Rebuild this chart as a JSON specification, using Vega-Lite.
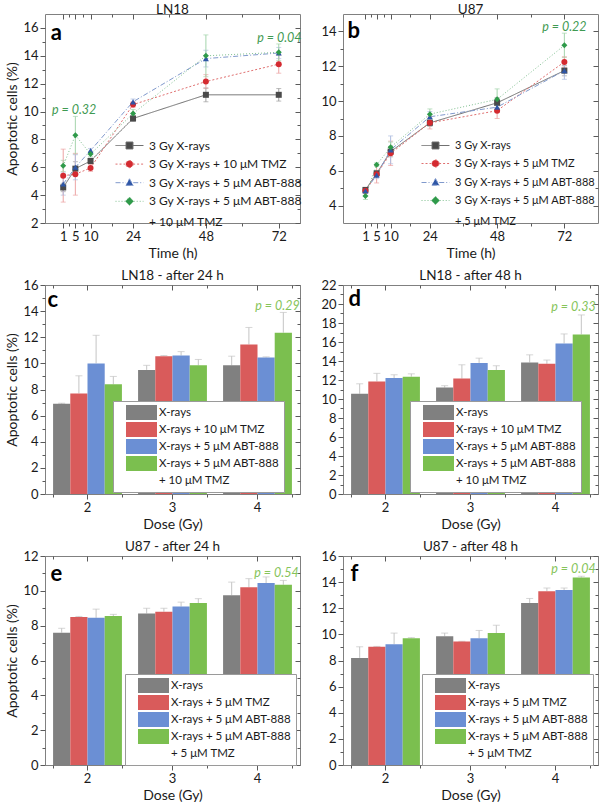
{
 "$schema": "https://vega.github.io/schema/vega-lite/v6.json",
 "padding": {"left": 5, "top": 2, "right": 0, "bottom": 0},
 "background": "white",
 "config": {
  "font": "Lato",
  "view": {"stroke": "#808080", "strokeWidth": 1},
  "axis": {"domain": false, "grid": false, "labelFontSize": 13, "labelColor": "#1a1a1a", "tickColor": "#5a5a5a", "tickSize": 5, "labelPadding": 2, "titleFontSize": 14, "titleFontWeight": "normal", "titleColor": "#1a1a1a", "titlePadding": 3},
  "title": {"fontSize": 13.5, "fontWeight": "normal", "color": "#1a1a1a", "offset": -3},
  "legend": {"labelFont": "Lato"},
  "text": {"font": "Lato"}
 },
 "datasets": {
  "a": [
   {"t":1,"s":"3 Gy X-rays","v":4.55,"e":0.3},
   {"t":5,"s":"3 Gy X-rays","v":5.9,"e":0.5},
   {"t":10,"s":"3 Gy X-rays","v":6.45,"e":0.2},
   {"t":24,"s":"3 Gy X-rays","v":9.5,"e":0.2},
   {"t":48,"s":"3 Gy X-rays","v":11.2,"e":0.5},
   {"t":72,"s":"3 Gy X-rays","v":11.2,"e":0.45},
   {"t":1,"s":"3 Gy X-rays + 10 μM TMZ","v":5.4,"e":1.9},
   {"t":5,"s":"3 Gy X-rays + 10 μM TMZ","v":5.5,"e":1.5},
   {"t":10,"s":"3 Gy X-rays + 10 μM TMZ","v":5.95,"e":0.25},
   {"t":24,"s":"3 Gy X-rays + 10 μM TMZ","v":10.5,"e":0.2},
   {"t":48,"s":"3 Gy X-rays + 10 μM TMZ","v":12.15,"e":0.5},
   {"t":72,"s":"3 Gy X-rays + 10 μM TMZ","v":13.4,"e":0.65},
   {"t":1,"s":"3 Gy X-rays + 5 μM ABT-888","v":4.8,"e":0.8},
   {"t":5,"s":"3 Gy X-rays + 5 μM ABT-888","v":6.0,"e":0.9},
   {"t":10,"s":"3 Gy X-rays + 5 μM ABT-888","v":7.2,"e":0.15},
   {"t":24,"s":"3 Gy X-rays + 5 μM ABT-888","v":10.7,"e":0.2},
   {"t":48,"s":"3 Gy X-rays + 5 μM ABT-888","v":13.8,"e":0.6},
   {"t":72,"s":"3 Gy X-rays + 5 μM ABT-888","v":14.2,"e":0.4},
   {"t":1,"s":"3 Gy X-rays + 5 μM ABT-888 + 10 μM TMZ","v":6.1,"e":0.4},
   {"t":5,"s":"3 Gy X-rays + 5 μM ABT-888 + 10 μM TMZ","v":8.3,"e":1.35},
   {"t":10,"s":"3 Gy X-rays + 5 μM ABT-888 + 10 μM TMZ","v":6.95,"e":0.2},
   {"t":24,"s":"3 Gy X-rays + 5 μM ABT-888 + 10 μM TMZ","v":9.85,"e":0.3},
   {"t":48,"s":"3 Gy X-rays + 5 μM ABT-888 + 10 μM TMZ","v":14.0,"e":1.5},
   {"t":72,"s":"3 Gy X-rays + 5 μM ABT-888 + 10 μM TMZ","v":14.25,"e":0.6}
  ],
  "b": [
   {"t":1,"s":"3 Gy X-rays","v":4.9,"e":0.1},
   {"t":5,"s":"3 Gy X-rays","v":5.85,"e":0.15},
   {"t":10,"s":"3 Gy X-rays","v":7.1,"e":0.3},
   {"t":24,"s":"3 Gy X-rays","v":8.75,"e":0.2},
   {"t":48,"s":"3 Gy X-rays","v":9.9,"e":0.3},
   {"t":72,"s":"3 Gy X-rays","v":11.75,"e":0.3},
   {"t":1,"s":"3 Gy X-rays + 5 μM TMZ","v":4.85,"e":0.15},
   {"t":5,"s":"3 Gy X-rays + 5 μM TMZ","v":5.8,"e":0.5},
   {"t":10,"s":"3 Gy X-rays + 5 μM TMZ","v":7.0,"e":0.7},
   {"t":24,"s":"3 Gy X-rays + 5 μM TMZ","v":8.75,"e":0.35},
   {"t":48,"s":"3 Gy X-rays + 5 μM TMZ","v":9.45,"e":0.45},
   {"t":72,"s":"3 Gy X-rays + 5 μM TMZ","v":12.25,"e":0.3},
   {"t":1,"s":"3 Gy X-rays + 5 μM ABT-888","v":4.85,"e":0.1},
   {"t":5,"s":"3 Gy X-rays + 5 μM ABT-888","v":5.75,"e":0.2},
   {"t":10,"s":"3 Gy X-rays + 5 μM ABT-888","v":7.2,"e":0.8},
   {"t":24,"s":"3 Gy X-rays + 5 μM ABT-888","v":9.1,"e":0.3},
   {"t":48,"s":"3 Gy X-rays + 5 μM ABT-888","v":9.65,"e":0.3},
   {"t":72,"s":"3 Gy X-rays + 5 μM ABT-888","v":11.75,"e":0.5},
   {"t":1,"s":"3 Gy X-rays + 5 μM ABT-888 + 5 μM TMZ","v":4.55,"e":0.2},
   {"t":5,"s":"3 Gy X-rays + 5 μM ABT-888 + 5 μM TMZ","v":6.35,"e":0.1},
   {"t":10,"s":"3 Gy X-rays + 5 μM ABT-888 + 5 μM TMZ","v":7.35,"e":0.3},
   {"t":24,"s":"3 Gy X-rays + 5 μM ABT-888 + 5 μM TMZ","v":9.25,"e":0.3},
   {"t":48,"s":"3 Gy X-rays + 5 μM ABT-888 + 5 μM TMZ","v":10.1,"e":0.6},
   {"t":72,"s":"3 Gy X-rays + 5 μM ABT-888 + 5 μM TMZ","v":13.2,"e":0.7}
  ],
  "c": [
   {"dose":2,"s":"X-rays","v":6.9,"hi":6.95},
   {"dose":2,"s":"X-rays + 10 μM TMZ","v":7.7,"hi":9.05},
   {"dose":2,"s":"X-rays + 5 μM ABT-888","v":10.0,"hi":12.15},
   {"dose":2,"s":"X-rays + 5 μM ABT-888 + 10 μM TMZ","v":8.4,"hi":9.0},
   {"dose":3,"s":"X-rays","v":9.5,"hi":9.85},
   {"dose":3,"s":"X-rays + 10 μM TMZ","v":10.55,"hi":10.6},
   {"dose":3,"s":"X-rays + 5 μM ABT-888","v":10.6,"hi":10.9},
   {"dose":3,"s":"X-rays + 5 μM ABT-888 + 10 μM TMZ","v":9.85,"hi":10.3},
   {"dose":4,"s":"X-rays","v":9.85,"hi":10.55},
   {"dose":4,"s":"X-rays + 10 μM TMZ","v":11.45,"hi":12.75},
   {"dose":4,"s":"X-rays + 5 μM ABT-888","v":10.45,"hi":10.5},
   {"dose":4,"s":"X-rays + 5 μM ABT-888 + 10 μM TMZ","v":12.35,"hi":13.9}
  ],
  "d": [
   {"dose":2,"s":"X-rays","v":10.55,"hi":11.6},
   {"dose":2,"s":"X-rays + 10 μM TMZ","v":11.85,"hi":12.7},
   {"dose":2,"s":"X-rays + 5 μM ABT-888","v":12.2,"hi":12.55},
   {"dose":2,"s":"X-rays + 5 μM ABT-888 + 10 μM TMZ","v":12.35,"hi":12.65},
   {"dose":3,"s":"X-rays","v":11.2,"hi":11.4},
   {"dose":3,"s":"X-rays + 10 μM TMZ","v":12.15,"hi":13.6},
   {"dose":3,"s":"X-rays + 5 μM ABT-888","v":13.8,"hi":14.3},
   {"dose":3,"s":"X-rays + 5 μM ABT-888 + 10 μM TMZ","v":13.05,"hi":13.5},
   {"dose":4,"s":"X-rays","v":13.85,"hi":14.65},
   {"dose":4,"s":"X-rays + 10 μM TMZ","v":13.7,"hi":14.1},
   {"dose":4,"s":"X-rays + 5 μM ABT-888","v":15.85,"hi":16.85},
   {"dose":4,"s":"X-rays + 5 μM ABT-888 + 10 μM TMZ","v":16.8,"hi":18.85}
  ],
  "e": [
   {"dose":2,"s":"X-rays","v":7.6,"hi":7.85},
   {"dose":2,"s":"X-rays + 5 μM TMZ","v":8.5,"hi":8.53},
   {"dose":2,"s":"X-rays + 5 μM ABT-888","v":8.45,"hi":8.95},
   {"dose":2,"s":"X-rays + 5 μM ABT-888 + 5 μM TMZ","v":8.55,"hi":8.65},
   {"dose":3,"s":"X-rays","v":8.7,"hi":9.0},
   {"dose":3,"s":"X-rays + 5 μM TMZ","v":8.8,"hi":9.0},
   {"dose":3,"s":"X-rays + 5 μM ABT-888","v":9.1,"hi":9.35},
   {"dose":3,"s":"X-rays + 5 μM ABT-888 + 5 μM TMZ","v":9.3,"hi":9.55},
   {"dose":4,"s":"X-rays","v":9.75,"hi":10.5},
   {"dose":4,"s":"X-rays + 5 μM TMZ","v":10.2,"hi":10.7},
   {"dose":4,"s":"X-rays + 5 μM ABT-888","v":10.45,"hi":10.8},
   {"dose":4,"s":"X-rays + 5 μM ABT-888 + 5 μM TMZ","v":10.35,"hi":10.6}
  ],
  "f": [
   {"dose":2,"s":"X-rays","v":8.2,"hi":9.05},
   {"dose":2,"s":"X-rays + 5 μM TMZ","v":9.05,"hi":9.08},
   {"dose":2,"s":"X-rays + 5 μM ABT-888","v":9.25,"hi":10.1},
   {"dose":2,"s":"X-rays + 5 μM ABT-888 + 5 μM TMZ","v":9.7,"hi":9.75},
   {"dose":3,"s":"X-rays","v":9.85,"hi":10.1},
   {"dose":3,"s":"X-rays + 5 μM TMZ","v":9.45,"hi":9.47},
   {"dose":3,"s":"X-rays + 5 μM ABT-888","v":9.7,"hi":10.3},
   {"dose":3,"s":"X-rays + 5 μM ABT-888 + 5 μM TMZ","v":10.1,"hi":10.7},
   {"dose":4,"s":"X-rays","v":12.4,"hi":12.75},
   {"dose":4,"s":"X-rays + 5 μM TMZ","v":13.3,"hi":13.55},
   {"dose":4,"s":"X-rays + 5 μM ABT-888","v":13.4,"hi":13.55},
   {"dose":4,"s":"X-rays + 5 μM ABT-888 + 5 μM TMZ","v":14.35,"hi":14.45}
  ]
 },
 "columns": 2,
 "bounds": "flush",
 "spacing": {"row": 62, "column": 43},
 "resolve": {"scale": {"color": "independent", "fill": "independent", "stroke": "independent", "shape": "independent", "strokeDash": "independent", "xOffset": "independent"}, "legend": {"color": "independent", "fill": "independent", "stroke": "independent", "shape": "independent", "strokeDash": "independent"}},
 "concat": [
  {
   "title": "LN18",
   "width": 255, "height": 209,
   "layer": [
    {"data": {"name": "a"}, "mark": {"type": "line", "strokeWidth": 1},
     "encoding": {
      "x": {"field": "t", "type": "quantitative", "scale": {"domain": [-5, 79], "nice": false, "zero": false}, "axis": {"orient": "bottom", "values": [1,5,10,24,48,72], "title": "Time (h)", "labelOverlap": false, "labelFlush": false}},
      "y": {"field": "v", "type": "quantitative", "scale": {"domain": [2, 17], "nice": false, "zero": false}, "axis": {"orient": "left", "values": [2,4,6,8,10,12,14,16], "title": "Apoptotic cells (%)"}},
      "color": {"field": "s", "type": "nominal", "scale": {"domain": ["3 Gy X-rays","3 Gy X-rays + 10 μM TMZ","3 Gy X-rays + 5 μM ABT-888","3 Gy X-rays + 5 μM ABT-888 + 10 μM TMZ"], "range": ["#6e6e6e","#e07070","#8099cc","#80c090"]}, "legend": null},
      "strokeDash": {"field": "s", "type": "nominal", "scale": {"domain": ["3 Gy X-rays","3 Gy X-rays + 10 μM TMZ","3 Gy X-rays + 5 μM ABT-888","3 Gy X-rays + 5 μM ABT-888 + 10 μM TMZ"], "range": [[1,0],[2,2],[5,2,1,2],[1,2]]}, "legend": null}
     }},
    {"data": {"name": "a"}, "mark": {"type": "errorbar", "ticks": true, "size": 5, "thickness": 1},
     "encoding": {
      "x": {"field": "t", "type": "quantitative", "axis": null},
      "y": {"field": "v", "type": "quantitative", "axis": null},
      "yError": {"field": "e"},
      "color": {"field": "s", "type": "nominal", "scale": {"domain": ["3 Gy X-rays","3 Gy X-rays + 10 μM TMZ","3 Gy X-rays + 5 μM ABT-888","3 Gy X-rays + 5 μM ABT-888 + 10 μM TMZ"], "range": ["#a0a0a0","#eca4a4","#aebde0","#a4d4ac"]}, "legend": null}
     }},
    {"data": {"name": "a"}, "mark": {"type": "point", "filled": true, "opacity": 1, "size": 36},
     "encoding": {
      "x": {"field": "t", "type": "quantitative", "axis": {"orient": "bottom", "values": [3,7.5,17,36,60], "labels": false, "title": null, "tickSize": 3}},
      "y": {"field": "v", "type": "quantitative", "axis": {"orient": "left", "values": [3,5,7,9,11,13,15], "labels": false, "title": null, "tickSize": 3}},
      "color": {"field": "s", "type": "nominal", "scale": {"domain": ["3 Gy X-rays","3 Gy X-rays + 10 μM TMZ","3 Gy X-rays + 5 μM ABT-888","3 Gy X-rays + 5 μM ABT-888 + 10 μM TMZ"], "range": ["#4a4a4a","#d42a30","#2e56a6","#2f9a4a"]}, "legend": null},
      "shape": {"field": "s", "type": "nominal", "scale": {"domain": ["3 Gy X-rays","3 Gy X-rays + 10 μM TMZ","3 Gy X-rays + 5 μM ABT-888","3 Gy X-rays + 5 μM ABT-888 + 10 μM TMZ"], "range": ["square","circle","triangle-up","diamond"]}, "legend": null}
     }},
    {"data": {"values": [{"x": 4.6, "y": 10.1, "label": "p = 0.32"}, {"x": 72.2, "y": 15.3, "label": "p = 0.04"}]},
     "mark": {"type": "text", "fontStyle": "italic", "fontSize": 12.5, "color": "#3f9a52"},
     "encoding": {
      "x": {"field": "x", "type": "quantitative", "axis": {"orient": "top", "offset": -5, "tickSize": 5, "values": [1,5,10,24,48,72], "labels": false, "title": null}},
      "y": {"field": "y", "type": "quantitative", "axis": {"orient": "right", "offset": -5, "tickSize": 5, "values": [2,4,6,8,10,12,14,16], "labels": false, "title": null}},
      "text": {"field": "label"}
     }},
    {"data": {"values": [{"x": -3.1, "y": 15.1, "label": "a"}]},
     "mark": {"type": "text", "fontWeight": "bold", "fontSize": 22, "align": "left", "baseline": "alphabetic", "color": "#000"},
     "encoding": {
      "x": {"field": "x", "type": "quantitative", "axis": {"orient": "top", "offset": -3, "tickSize": 3, "values": [3,7.5,17,36,60], "labels": false, "title": null}},
      "y": {"field": "y", "type": "quantitative", "axis": {"orient": "right", "offset": -3, "tickSize": 3, "values": [3,5,7,9,11,13,15], "labels": false, "title": null}},
      "text": {"field": "label"}
     }},
    {"data": {"name": "a"}, "transform": [{"filter": "false"}],
     "mark": {"type": "point", "filled": true, "opacity": 1},
     "encoding": {
      "fill": {"field": "s", "type": "nominal", "scale": {"domain": ["3 Gy X-rays","3 Gy X-rays + 10 μM TMZ","3 Gy X-rays + 5 μM ABT-888","3 Gy X-rays + 5 μM ABT-888 + 10 μM TMZ","+ 10 μM TMZ"], "range": ["#4a4a4a","#d42a30","#2e56a6","#2f9a4a","transparent"]},
       "legend": {"orient": "none", "legendX": 70, "legendY": 125, "title": null, "padding": 0, "symbolSize": 144, "symbolOffset": 8, "symbolStrokeWidth": 1, "labelFontSize": 12, "labelColor": "#1a1a1a", "labelOffset": 13, "rowPadding": 5.6, "labelLimit": 400, "labelExpr": "indexof(datum.label,'ABT-888 +')>=0 ? slice(datum.label,0,indexof(datum.label,'ABT-888')+7) : datum.label"}},
      "stroke": {"field": "s", "type": "nominal", "scale": {"domain": ["3 Gy X-rays","3 Gy X-rays + 10 μM TMZ","3 Gy X-rays + 5 μM ABT-888","3 Gy X-rays + 5 μM ABT-888 + 10 μM TMZ","+ 10 μM TMZ"], "range": ["#6e6e6e","#e07070","#8099cc","#80c090","transparent"]},
       "legend": {"orient": "none", "legendX": 70, "legendY": 125, "title": null, "padding": 0, "symbolSize": 144, "symbolOffset": 8, "symbolStrokeWidth": 1, "labelFontSize": 12, "labelColor": "#1a1a1a", "labelOffset": 13, "rowPadding": 5.6, "labelLimit": 400, "labelExpr": "indexof(datum.label,'ABT-888 +')>=0 ? slice(datum.label,0,indexof(datum.label,'ABT-888')+7) : datum.label"}},
      "shape": {"field": "s", "type": "nominal", "scale": {"domain": ["3 Gy X-rays","3 Gy X-rays + 10 μM TMZ","3 Gy X-rays + 5 μM ABT-888","3 Gy X-rays + 5 μM ABT-888 + 10 μM TMZ","+ 10 μM TMZ"], "range": ["M-2.33,0H-0.58M0.58,0H2.33M-0.58,-0.58H0.58V0.58H-0.58Z","M-2.33,0H-0.6M0.6,0H2.33M0.6,0A0.6,0.6,0,1,1,-0.6,0A0.6,0.6,0,1,1,0.6,0Z","M-2.33,0H-0.62M0.62,0H2.33M0,-0.65L0.62,0.45H-0.62Z","M-2.33,0H-0.7M0.7,0H2.33M0,-0.7L0.7,0L0,0.7L-0.7,0Z","circle"]},
       "legend": {"orient": "none", "legendX": 70, "legendY": 125, "title": null, "padding": 0, "symbolSize": 144, "symbolOffset": 8, "symbolStrokeWidth": 1, "labelFontSize": 12, "labelColor": "#1a1a1a", "labelOffset": 13, "rowPadding": 5.6, "labelLimit": 400, "labelExpr": "indexof(datum.label,'ABT-888 +')>=0 ? slice(datum.label,0,indexof(datum.label,'ABT-888')+7) : datum.label"}},
      "strokeDash": {"field": "s", "type": "nominal", "scale": {"domain": ["3 Gy X-rays","3 Gy X-rays + 10 μM TMZ","3 Gy X-rays + 5 μM ABT-888","3 Gy X-rays + 5 μM ABT-888 + 10 μM TMZ","+ 10 μM TMZ"], "range": [[1,0],[2,2],[5,2,1,2],[1,2],[1,0]]},
       "legend": {"orient": "none", "legendX": 70, "legendY": 125, "title": null, "padding": 0, "symbolSize": 144, "symbolOffset": 8, "symbolStrokeWidth": 1, "labelFontSize": 12, "labelColor": "#1a1a1a", "labelOffset": 13, "rowPadding": 5.6, "labelLimit": 400, "labelExpr": "indexof(datum.label,'ABT-888 +')>=0 ? slice(datum.label,0,indexof(datum.label,'ABT-888')+7) : datum.label"}}
     }}
   ],
   "resolve": {"scale": {"color": "independent", "shape": "independent", "strokeDash": "independent", "fill": "independent", "stroke": "independent"}, "axis": {"x": "independent", "y": "independent"}}
  },
  {
   "title": "U87",
   "width": 255, "height": 209,
   "layer": [
    {"data": {"name": "b"}, "mark": {"type": "line", "strokeWidth": 1},
     "encoding": {
      "x": {"field": "t", "type": "quantitative", "scale": {"domain": [-7, 84], "nice": false, "zero": false}, "axis": {"orient": "bottom", "values": [1,5,10,24,48,72], "title": "Time (h)", "labelOverlap": false, "labelFlush": false}},
      "y": {"field": "v", "type": "quantitative", "scale": {"domain": [3, 15], "nice": false, "zero": false}, "axis": {"orient": "left", "values": [4,6,8,10,12,14], "title": null}},
      "color": {"field": "s", "type": "nominal", "scale": {"domain": ["3 Gy X-rays","3 Gy X-rays + 5 μM TMZ","3 Gy X-rays + 5 μM ABT-888","3 Gy X-rays + 5 μM ABT-888 + 5 μM TMZ"], "range": ["#6e6e6e","#e07070","#8099cc","#80c090"]}, "legend": null},
      "strokeDash": {"field": "s", "type": "nominal", "scale": {"domain": ["3 Gy X-rays","3 Gy X-rays + 5 μM TMZ","3 Gy X-rays + 5 μM ABT-888","3 Gy X-rays + 5 μM ABT-888 + 5 μM TMZ"], "range": [[1,0],[2,2],[5,2,1,2],[1,2]]}, "legend": null}
     }},
    {"data": {"name": "b"}, "mark": {"type": "errorbar", "ticks": true, "size": 5, "thickness": 1},
     "encoding": {
      "x": {"field": "t", "type": "quantitative", "axis": null},
      "y": {"field": "v", "type": "quantitative", "axis": null},
      "yError": {"field": "e"},
      "color": {"field": "s", "type": "nominal", "scale": {"domain": ["3 Gy X-rays","3 Gy X-rays + 5 μM TMZ","3 Gy X-rays + 5 μM ABT-888","3 Gy X-rays + 5 μM ABT-888 + 5 μM TMZ"], "range": ["#a0a0a0","#eca4a4","#aebde0","#a4d4ac"]}, "legend": null}
     }},
    {"data": {"name": "b"}, "mark": {"type": "point", "filled": true, "opacity": 1, "size": 36},
     "encoding": {
      "x": {"field": "t", "type": "quantitative", "axis": {"orient": "bottom", "values": [3,7.5,17,36,60], "labels": false, "title": null, "tickSize": 3}},
      "y": {"field": "v", "type": "quantitative", "axis": {"orient": "left", "values": [5,7,9,11,13], "labels": false, "title": null, "tickSize": 3}},
      "color": {"field": "s", "type": "nominal", "scale": {"domain": ["3 Gy X-rays","3 Gy X-rays + 5 μM TMZ","3 Gy X-rays + 5 μM ABT-888","3 Gy X-rays + 5 μM ABT-888 + 5 μM TMZ"], "range": ["#4a4a4a","#d42a30","#2e56a6","#2f9a4a"]}, "legend": null},
      "shape": {"field": "s", "type": "nominal", "scale": {"domain": ["3 Gy X-rays","3 Gy X-rays + 5 μM TMZ","3 Gy X-rays + 5 μM ABT-888","3 Gy X-rays + 5 μM ABT-888 + 5 μM TMZ"], "range": ["square","circle","triangle-up","diamond"]}, "legend": null}
     }},
    {"data": {"values": [{"x": 72, "y": 14.25, "label": "p = 0.22"}]},
     "mark": {"type": "text", "fontStyle": "italic", "fontSize": 12.5, "color": "#3f9a52"},
     "encoding": {
      "x": {"field": "x", "type": "quantitative", "axis": {"orient": "top", "offset": -5, "tickSize": 5, "values": [1,5,10,24,48,72], "labels": false, "title": null}},
      "y": {"field": "y", "type": "quantitative", "axis": {"orient": "right", "offset": -5, "tickSize": 5, "values": [4,6,8,10,12,14], "labels": false, "title": null}},
      "text": {"field": "label"}
     }},
    {"data": {"values": [{"x": -5.4, "y": 13.6, "label": "b"}]},
     "mark": {"type": "text", "fontWeight": "bold", "fontSize": 22, "align": "left", "baseline": "alphabetic", "color": "#000"},
     "encoding": {
      "x": {"field": "x", "type": "quantitative", "axis": {"orient": "top", "offset": -3, "tickSize": 3, "values": [3,7.5,17,36,60], "labels": false, "title": null}},
      "y": {"field": "y", "type": "quantitative", "axis": {"orient": "right", "offset": -3, "tickSize": 3, "values": [5,7,9,11,13], "labels": false, "title": null}},
      "text": {"field": "label"}
     }},
    {"data": {"name": "b"}, "transform": [{"filter": "false"}],
     "mark": {"type": "point", "filled": true, "opacity": 1},
     "encoding": {
      "fill": {"field": "s", "type": "nominal", "scale": {"domain": ["3 Gy X-rays","3 Gy X-rays + 5 μM TMZ","3 Gy X-rays + 5 μM ABT-888","3 Gy X-rays + 5 μM ABT-888 + 5 μM TMZ","+ 5 μM TMZ"], "range": ["#4a4a4a","#d42a30","#2e56a6","#2f9a4a","transparent"]},
       "legend": {"orient": "none", "legendX": 78, "legendY": 125, "title": null, "padding": 0, "symbolSize": 144, "symbolOffset": 8, "symbolStrokeWidth": 1, "labelFontSize": 11, "labelColor": "#1a1a1a", "labelOffset": 13, "rowPadding": 6, "labelLimit": 400, "labelExpr": "indexof(datum.label,'ABT-888 +')>=0 ? slice(datum.label,0,indexof(datum.label,'ABT-888')+7) : datum.label"}},
      "stroke": {"field": "s", "type": "nominal", "scale": {"domain": ["3 Gy X-rays","3 Gy X-rays + 5 μM TMZ","3 Gy X-rays + 5 μM ABT-888","3 Gy X-rays + 5 μM ABT-888 + 5 μM TMZ","+ 5 μM TMZ"], "range": ["#6e6e6e","#e07070","#8099cc","#80c090","transparent"]},
       "legend": {"orient": "none", "legendX": 78, "legendY": 125, "title": null, "padding": 0, "symbolSize": 144, "symbolOffset": 8, "symbolStrokeWidth": 1, "labelFontSize": 11, "labelColor": "#1a1a1a", "labelOffset": 13, "rowPadding": 6, "labelLimit": 400, "labelExpr": "indexof(datum.label,'ABT-888 +')>=0 ? slice(datum.label,0,indexof(datum.label,'ABT-888')+7) : datum.label"}},
      "shape": {"field": "s", "type": "nominal", "scale": {"domain": ["3 Gy X-rays","3 Gy X-rays + 5 μM TMZ","3 Gy X-rays + 5 μM ABT-888","3 Gy X-rays + 5 μM ABT-888 + 5 μM TMZ","+ 5 μM TMZ"], "range": ["M-2.33,0H-0.58M0.58,0H2.33M-0.58,-0.58H0.58V0.58H-0.58Z","M-2.33,0H-0.6M0.6,0H2.33M0.6,0A0.6,0.6,0,1,1,-0.6,0A0.6,0.6,0,1,1,0.6,0Z","M-2.33,0H-0.62M0.62,0H2.33M0,-0.65L0.62,0.45H-0.62Z","M-2.33,0H-0.7M0.7,0H2.33M0,-0.7L0.7,0L0,0.7L-0.7,0Z","circle"]},
       "legend": {"orient": "none", "legendX": 78, "legendY": 125, "title": null, "padding": 0, "symbolSize": 144, "symbolOffset": 8, "symbolStrokeWidth": 1, "labelFontSize": 11, "labelColor": "#1a1a1a", "labelOffset": 13, "rowPadding": 6, "labelLimit": 400, "labelExpr": "indexof(datum.label,'ABT-888 +')>=0 ? slice(datum.label,0,indexof(datum.label,'ABT-888')+7) : datum.label"}},
      "strokeDash": {"field": "s", "type": "nominal", "scale": {"domain": ["3 Gy X-rays","3 Gy X-rays + 5 μM TMZ","3 Gy X-rays + 5 μM ABT-888","3 Gy X-rays + 5 μM ABT-888 + 5 μM TMZ","+ 5 μM TMZ"], "range": [[1,0],[2,2],[5,2,1,2],[1,2],[1,0]]},
       "legend": {"orient": "none", "legendX": 78, "legendY": 125, "title": null, "padding": 0, "symbolSize": 144, "symbolOffset": 8, "symbolStrokeWidth": 1, "labelFontSize": 11, "labelColor": "#1a1a1a", "labelOffset": 13, "rowPadding": 6, "labelLimit": 400, "labelExpr": "indexof(datum.label,'ABT-888 +')>=0 ? slice(datum.label,0,indexof(datum.label,'ABT-888')+7) : datum.label"}}
     }}
   ],
   "resolve": {"scale": {"color": "independent", "shape": "independent", "strokeDash": "independent", "fill": "independent", "stroke": "independent"}, "axis": {"x": "independent", "y": "independent"}}
  },
  {
   "title": "LN18 - after 24 h",
   "width": 255, "height": 209,
   "data": {"name": "c"},
   "layer": [
    {"mark": {"type": "rule", "color": "#c4c4c4", "strokeWidth": 1},
     "encoding": {
      "x": {"field": "dose", "type": "ordinal", "axis": null},
      "xOffset": {"field": "s", "type": "nominal"},
      "y": {"field": "v", "type": "quantitative", "axis": null},
      "y2": {"field": "hi"}
     }},
    {"mark": {"type": "tick", "color": "#c4c4c4", "thickness": 1, "size": 7},
     "encoding": {
      "x": {"field": "dose", "type": "ordinal", "axis": {"orient": "bottom", "tickBand": "extent", "labels": false, "title": null, "tickSize": 3}},
      "xOffset": {"field": "s", "type": "nominal"},
      "y": {"field": "hi", "type": "quantitative", "axis": {"orient": "left", "values": [1,3,5,7,9,11,13,15], "labels": false, "title": null, "tickSize": 3}}
     }},
    {"mark": {"type": "bar"},
     "encoding": {
      "x": {"field": "dose", "type": "ordinal", "scale": {"paddingInner": 0.19, "paddingOuter": 0.095}, "axis": {"orient": "bottom", "title": "Dose (Gy)", "labelAngle": 0}},
      "xOffset": {"field": "s", "type": "nominal", "scale": {"domain": ["X-rays","X-rays + 10 μM TMZ","X-rays + 5 μM ABT-888","X-rays + 5 μM ABT-888 + 10 μM TMZ"], "paddingInner": 0, "paddingOuter": 0}},
      "y": {"field": "v", "type": "quantitative", "scale": {"domain": [0, 16], "nice": false}, "axis": {"orient": "left", "values": [0,2,4,6,8,10,12,14,16], "title": "Apoptotic cells (%)"}},
      "color": {"field": "s", "type": "nominal", "scale": {"domain": ["X-rays","X-rays + 10 μM TMZ","X-rays + 5 μM ABT-888","X-rays + 5 μM ABT-888 + 10 μM TMZ","+ 10 μM TMZ"], "range": ["#808080","#d95b5b","#6b8fd4","#7bbf4f","transparent"]},
       "legend": {"orient": "none", "legendX": 68, "legendY": 116, "title": null, "padding": 4, "fillColor": "white", "strokeColor": "#9a9a9a", "symbolType": "M-2.067,-1H2.067V1H-2.067Z", "symbolSize": 225, "symbolStrokeWidth": 0, "symbolOffset": 17, "labelOffset": 10, "labelFontSize": 11.5, "labelColor": "#1a1a1a", "rowPadding": 2, "labelLimit": 400, "labelExpr": "(indexof(datum.label,'ABT-888 +')>=0 ? slice(datum.label,0,indexof(datum.label,'ABT-888')+7) : datum.label) + '              '"}}
     }},
    {"data": {"values": [{"dose": 4, "v": 14.4, "label": "p = 0.29"}]},
     "mark": {"type": "text", "fontStyle": "italic", "fontSize": 12.5, "color": "#86c45a", "dx": 20},
     "encoding": {
      "x": {"field": "dose", "type": "ordinal", "axis": {"orient": "top", "offset": -5, "tickSize": 5, "labels": false, "title": null}},
      "y": {"field": "v", "type": "quantitative", "axis": {"orient": "right", "offset": -5, "tickSize": 5, "values": [0,2,4,6,8,10,12,14,16], "labels": false, "title": null}},
      "text": {"field": "label"}
     }},
    {"data": {"values": [{"dose": 2, "v": 14.3, "label": "c"}]},
     "mark": {"type": "text", "fontWeight": "bold", "fontSize": 22, "align": "left", "baseline": "alphabetic", "color": "#000", "dx": -40},
     "encoding": {
      "x": {"field": "dose", "type": "ordinal", "axis": {"orient": "top", "offset": -3, "tickSize": 3, "tickBand": "extent", "labels": false, "title": null}},
      "y": {"field": "v", "type": "quantitative", "axis": {"orient": "right", "offset": -3, "tickSize": 3, "values": [1,3,5,7,9,11,13,15], "labels": false, "title": null}},
      "text": {"field": "label"}
     }}
   ],
   "resolve": {"axis": {"x": "independent", "y": "independent"}}
  },
  {
   "title": "LN18 - after 48 h",
   "width": 255, "height": 209,
   "data": {"name": "d"},
   "layer": [
    {"mark": {"type": "rule", "color": "#c4c4c4", "strokeWidth": 1},
     "encoding": {
      "x": {"field": "dose", "type": "ordinal", "axis": null},
      "xOffset": {"field": "s", "type": "nominal"},
      "y": {"field": "v", "type": "quantitative", "axis": null},
      "y2": {"field": "hi"}
     }},
    {"mark": {"type": "tick", "color": "#c4c4c4", "thickness": 1, "size": 7},
     "encoding": {
      "x": {"field": "dose", "type": "ordinal", "axis": {"orient": "bottom", "tickBand": "extent", "labels": false, "title": null, "tickSize": 3}},
      "xOffset": {"field": "s", "type": "nominal"},
      "y": {"field": "hi", "type": "quantitative", "axis": {"orient": "left", "values": [1,3,5,7,9,11,13,15,17,19,21], "labels": false, "title": null, "tickSize": 3}}
     }},
    {"mark": {"type": "bar"},
     "encoding": {
      "x": {"field": "dose", "type": "ordinal", "scale": {"paddingInner": 0.19, "paddingOuter": 0.095}, "axis": {"orient": "bottom", "title": "Dose (Gy)", "labelAngle": 0}},
      "xOffset": {"field": "s", "type": "nominal", "scale": {"domain": ["X-rays","X-rays + 10 μM TMZ","X-rays + 5 μM ABT-888","X-rays + 5 μM ABT-888 + 10 μM TMZ"], "paddingInner": 0, "paddingOuter": 0}},
      "y": {"field": "v", "type": "quantitative", "scale": {"domain": [0, 22], "nice": false}, "axis": {"orient": "left", "values": [0,2,4,6,8,10,12,14,16,18,20,22], "title": null}},
      "color": {"field": "s", "type": "nominal", "scale": {"domain": ["X-rays","X-rays + 10 μM TMZ","X-rays + 5 μM ABT-888","X-rays + 5 μM ABT-888 + 10 μM TMZ","+ 10 μM TMZ"], "range": ["#808080","#d95b5b","#6b8fd4","#7bbf4f","transparent"]},
       "legend": {"orient": "none", "legendX": 67, "legendY": 116, "title": null, "padding": 4, "fillColor": "white", "strokeColor": "#9a9a9a", "symbolType": "M-2.067,-1H2.067V1H-2.067Z", "symbolSize": 225, "symbolStrokeWidth": 0, "symbolOffset": 17, "labelOffset": 10, "labelFontSize": 11.5, "labelColor": "#1a1a1a", "rowPadding": 2, "labelLimit": 400, "labelExpr": "(indexof(datum.label,'ABT-888 +')>=0 ? slice(datum.label,0,indexof(datum.label,'ABT-888')+7) : datum.label) + '              '"}}
     }},
    {"data": {"values": [{"dose": 4, "v": 19.7, "label": "p = 0.33"}]},
     "mark": {"type": "text", "fontStyle": "italic", "fontSize": 12.5, "color": "#86c45a", "dx": 18},
     "encoding": {
      "x": {"field": "dose", "type": "ordinal", "axis": {"orient": "top", "offset": -5, "tickSize": 5, "labels": false, "title": null}},
      "y": {"field": "v", "type": "quantitative", "axis": {"orient": "right", "offset": -5, "tickSize": 5, "values": [0,2,4,6,8,10,12,14,16,18,20,22], "labels": false, "title": null}},
      "text": {"field": "label"}
     }},
    {"data": {"values": [{"dose": 2, "v": 19.8, "label": "d"}]},
     "mark": {"type": "text", "fontWeight": "bold", "fontSize": 22, "align": "left", "baseline": "alphabetic", "color": "#000", "dx": -37},
     "encoding": {
      "x": {"field": "dose", "type": "ordinal", "axis": {"orient": "top", "offset": -3, "tickSize": 3, "tickBand": "extent", "labels": false, "title": null}},
      "y": {"field": "v", "type": "quantitative", "axis": {"orient": "right", "offset": -3, "tickSize": 3, "values": [1,3,5,7,9,11,13,15,17,19,21], "labels": false, "title": null}},
      "text": {"field": "label"}
     }}
   ],
   "resolve": {"axis": {"x": "independent", "y": "independent"}}
  },
  {
   "title": "U87 - after 24 h",
   "width": 255, "height": 209,
   "data": {"name": "e"},
   "layer": [
    {"mark": {"type": "rule", "color": "#c4c4c4", "strokeWidth": 1},
     "encoding": {
      "x": {"field": "dose", "type": "ordinal", "axis": null},
      "xOffset": {"field": "s", "type": "nominal"},
      "y": {"field": "v", "type": "quantitative", "axis": null},
      "y2": {"field": "hi"}
     }},
    {"mark": {"type": "tick", "color": "#c4c4c4", "thickness": 1, "size": 7},
     "encoding": {
      "x": {"field": "dose", "type": "ordinal", "axis": {"orient": "bottom", "tickBand": "extent", "labels": false, "title": null, "tickSize": 3}},
      "xOffset": {"field": "s", "type": "nominal"},
      "y": {"field": "hi", "type": "quantitative", "axis": {"orient": "left", "values": [1,3,5,7,9,11], "labels": false, "title": null, "tickSize": 3}}
     }},
    {"mark": {"type": "bar"},
     "encoding": {
      "x": {"field": "dose", "type": "ordinal", "scale": {"paddingInner": 0.19, "paddingOuter": 0.095}, "axis": {"orient": "bottom", "title": "Dose (Gy)", "labelAngle": 0}},
      "xOffset": {"field": "s", "type": "nominal", "scale": {"domain": ["X-rays","X-rays + 5 μM TMZ","X-rays + 5 μM ABT-888","X-rays + 5 μM ABT-888 + 5 μM TMZ"], "paddingInner": 0, "paddingOuter": 0}},
      "y": {"field": "v", "type": "quantitative", "scale": {"domain": [0, 12], "nice": false}, "axis": {"orient": "left", "values": [0,2,4,6,8,10,12], "title": "Apoptotic cells (%)"}},
      "color": {"field": "s", "type": "nominal", "scale": {"domain": ["X-rays","X-rays + 5 μM TMZ","X-rays + 5 μM ABT-888","X-rays + 5 μM ABT-888 + 5 μM TMZ","+ 5 μM TMZ"], "range": ["#808080","#d95b5b","#6b8fd4","#7bbf4f","transparent"]},
       "legend": {"orient": "none", "legendX": 80, "legendY": 118, "title": null, "padding": 4, "fillColor": "white", "strokeColor": "#9a9a9a", "symbolType": "M-2.067,-1H2.067V1H-2.067Z", "symbolSize": 225, "symbolStrokeWidth": 0, "symbolOffset": 17, "labelOffset": 10, "labelFontSize": 11.5, "labelColor": "#1a1a1a", "rowPadding": 2, "labelLimit": 400, "labelExpr": "(indexof(datum.label,'ABT-888 +')>=0 ? slice(datum.label,0,indexof(datum.label,'ABT-888')+7) : datum.label) + '              '"}}
     }},
    {"data": {"values": [{"dose": 4, "v": 11.0, "label": "p = 0.54"}]},
     "mark": {"type": "text", "fontStyle": "italic", "fontSize": 12.5, "color": "#86c45a", "dx": 19},
     "encoding": {
      "x": {"field": "dose", "type": "ordinal", "axis": {"orient": "top", "offset": -5, "tickSize": 5, "labels": false, "title": null}},
      "y": {"field": "v", "type": "quantitative", "axis": {"orient": "right", "offset": -5, "tickSize": 5, "values": [0,2,4,6,8,10,12], "labels": false, "title": null}},
      "text": {"field": "label"}
     }},
    {"data": {"values": [{"dose": 2, "v": 10.55, "label": "e"}]},
     "mark": {"type": "text", "fontWeight": "bold", "fontSize": 22, "align": "left", "baseline": "alphabetic", "color": "#000", "dx": -37},
     "encoding": {
      "x": {"field": "dose", "type": "ordinal", "axis": {"orient": "top", "offset": -3, "tickSize": 3, "tickBand": "extent", "labels": false, "title": null}},
      "y": {"field": "v", "type": "quantitative", "axis": {"orient": "right", "offset": -3, "tickSize": 3, "values": [1,3,5,7,9,11], "labels": false, "title": null}},
      "text": {"field": "label"}
     }}
   ],
   "resolve": {"axis": {"x": "independent", "y": "independent"}}
  },
  {
   "title": "U87 - after 48 h",
   "width": 255, "height": 209,
   "data": {"name": "f"},
   "layer": [
    {"mark": {"type": "rule", "color": "#c4c4c4", "strokeWidth": 1},
     "encoding": {
      "x": {"field": "dose", "type": "ordinal", "axis": null},
      "xOffset": {"field": "s", "type": "nominal"},
      "y": {"field": "v", "type": "quantitative", "axis": null},
      "y2": {"field": "hi"}
     }},
    {"mark": {"type": "tick", "color": "#c4c4c4", "thickness": 1, "size": 7},
     "encoding": {
      "x": {"field": "dose", "type": "ordinal", "axis": {"orient": "bottom", "tickBand": "extent", "labels": false, "title": null, "tickSize": 3}},
      "xOffset": {"field": "s", "type": "nominal"},
      "y": {"field": "hi", "type": "quantitative", "axis": {"orient": "left", "values": [1,3,5,7,9,11,13,15], "labels": false, "title": null, "tickSize": 3}}
     }},
    {"mark": {"type": "bar"},
     "encoding": {
      "x": {"field": "dose", "type": "ordinal", "scale": {"paddingInner": 0.19, "paddingOuter": 0.095}, "axis": {"orient": "bottom", "title": "Dose (Gy)", "labelAngle": 0}},
      "xOffset": {"field": "s", "type": "nominal", "scale": {"domain": ["X-rays","X-rays + 5 μM TMZ","X-rays + 5 μM ABT-888","X-rays + 5 μM ABT-888 + 5 μM TMZ"], "paddingInner": 0, "paddingOuter": 0}},
      "y": {"field": "v", "type": "quantitative", "scale": {"domain": [0, 16], "nice": false}, "axis": {"orient": "left", "values": [0,2,4,6,8,10,12,14,16], "title": null}},
      "color": {"field": "s", "type": "nominal", "scale": {"domain": ["X-rays","X-rays + 5 μM TMZ","X-rays + 5 μM ABT-888","X-rays + 5 μM ABT-888 + 5 μM TMZ","+ 5 μM TMZ"], "range": ["#808080","#d95b5b","#6b8fd4","#7bbf4f","transparent"]},
       "legend": {"orient": "none", "legendX": 79, "legendY": 118, "title": null, "padding": 4, "fillColor": "white", "strokeColor": "#9a9a9a", "symbolType": "M-2.067,-1H2.067V1H-2.067Z", "symbolSize": 225, "symbolStrokeWidth": 0, "symbolOffset": 17, "labelOffset": 10, "labelFontSize": 11.5, "labelColor": "#1a1a1a", "rowPadding": 2, "labelLimit": 400, "labelExpr": "(indexof(datum.label,'ABT-888 +')>=0 ? slice(datum.label,0,indexof(datum.label,'ABT-888')+7) : datum.label) + '              '"}}
     }},
    {"data": {"values": [{"dose": 4, "v": 15.0, "label": "p = 0.04"}]},
     "mark": {"type": "text", "fontStyle": "italic", "fontSize": 12.5, "color": "#86c45a", "dx": 18},
     "encoding": {
      "x": {"field": "dose", "type": "ordinal", "axis": {"orient": "top", "offset": -5, "tickSize": 5, "labels": false, "title": null}},
      "y": {"field": "v", "type": "quantitative", "axis": {"orient": "right", "offset": -5, "tickSize": 5, "values": [0,2,4,6,8,10,12,14,16], "labels": false, "title": null}},
      "text": {"field": "label"}
     }},
    {"data": {"values": [{"dose": 2, "v": 14.1, "label": "f"}]},
     "mark": {"type": "text", "fontWeight": "bold", "fontSize": 22, "align": "left", "baseline": "alphabetic", "color": "#000", "dx": -35},
     "encoding": {
      "x": {"field": "dose", "type": "ordinal", "axis": {"orient": "top", "offset": -3, "tickSize": 3, "tickBand": "extent", "labels": false, "title": null}},
      "y": {"field": "v", "type": "quantitative", "axis": {"orient": "right", "offset": -3, "tickSize": 3, "values": [1,3,5,7,9,11,13,15], "labels": false, "title": null}},
      "text": {"field": "label"}
     }}
   ],
   "resolve": {"axis": {"x": "independent", "y": "independent"}}
  }
 ]
}
